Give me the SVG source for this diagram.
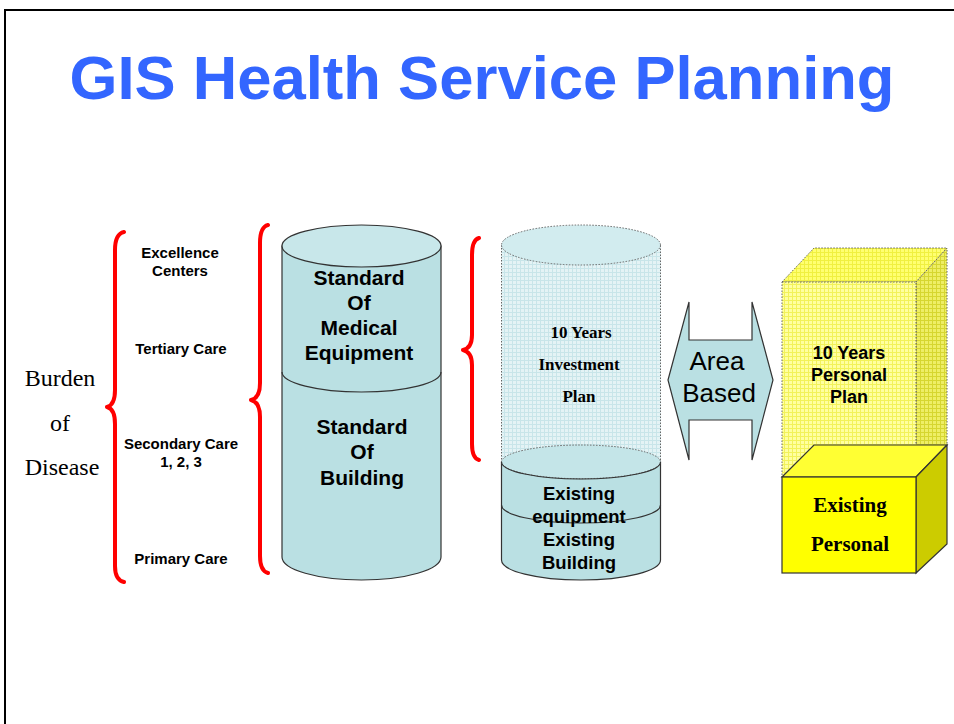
<svg xmlns="http://www.w3.org/2000/svg" width="954" height="724" viewBox="0 0 954 724">
<defs>
<pattern id="gridBlue" width="4" height="4" patternUnits="userSpaceOnUse">
<rect width="4" height="4" fill="#E4F3F5"/>
<path d="M0,0.5 H4 M0.5,0 V4" stroke="#C8E5E9" stroke-width="1"/>
</pattern>
<pattern id="gridYellow" width="4" height="4" patternUnits="userSpaceOnUse">
<rect width="4" height="4" fill="#FFFFA0"/>
<path d="M0,0.5 H4 M0.5,0 V4" stroke="#F2F25A" stroke-width="1"/>
</pattern>
<pattern id="gridYellowTop" width="4" height="4" patternUnits="userSpaceOnUse">
<rect width="4" height="4" fill="#FFFF70"/>
<path d="M0,0.5 H4 M0.5,0 V4" stroke="#F0F040" stroke-width="1"/>
</pattern>
<pattern id="gridYellowSide" width="4" height="4" patternUnits="userSpaceOnUse">
<rect width="4" height="4" fill="#EEEE66"/>
<path d="M0,0.5 H4 M0.5,0 V4" stroke="#D6D630" stroke-width="1"/>
</pattern>
</defs>
<style>
.brace{fill:none;stroke:#FF0000;stroke-width:4;stroke-linecap:round;stroke-linejoin:round}
.solid{stroke:#333333;stroke-width:1.2}
.dot{stroke:#666666;stroke-width:1;stroke-dasharray:1.5 1.5}
.lbl{font-family:"Liberation Sans",Arial,sans-serif;font-weight:bold;font-size:15px;fill:#000;text-anchor:middle}
.cyl{font-family:"Liberation Sans",Arial,sans-serif;font-weight:bold;font-size:21px;fill:#000;text-anchor:middle}
.ser{font-family:"Liberation Serif","Times New Roman",serif;fill:#000;text-anchor:middle}
</style>
<rect width="954" height="724" fill="#FFFFFF"/>
<path d="M5,730 L5,10 L960,10" fill="none" stroke="#000" stroke-width="2"/>
<text x="482" y="99" font-family="Liberation Sans,Arial,sans-serif" font-weight="bold" font-size="61" fill="#3366FF" textLength="825" lengthAdjust="spacingAndGlyphs" text-anchor="middle">GIS Health Service Planning</text>

<g id="burden">
<text class="ser" x="60" y="386" font-size="24">Burden</text>
<text class="ser" x="60" y="431" font-size="24">of</text>
<text class="ser" x="62" y="475" font-size="24">Disease</text>
</g>

<g id="connectors">
<path class="brace" d="M124,232 Q115,234 115,250 L115,390 Q115,405 107,407 Q115,409 115,424 L115,566 Q115,580 124,582"/>
<path class="brace" d="M268,225 Q260,227 260,243 L260,383 Q260,398 251,400 Q260,402 260,417 L260,556 Q260,571 268,573"/>
<path class="brace" d="M479,238 Q472,240 472,255 L472,335 Q472,348 463,350 Q472,352 472,365 L472,444 Q472,458 479,460"/>
</g>

<g id="care-levels">
<text class="lbl" x="180" y="258">Excellence</text>
<text class="lbl" x="180" y="276">Centers</text>
<text class="lbl" x="181" y="354">Tertiary Care</text>
<text class="lbl" x="181" y="449">Secondary Care</text>
<text class="lbl" x="181" y="467">1, 2, 3</text>
<text class="lbl" x="181" y="564">Primary Care</text>
</g>

<g id="standards-cylinder">
<path class="solid" d="M282,246 L282,557 A79.5,23 0 0 0 441,557 L441,246 Z" fill="#BAE0E3"/>
<ellipse class="solid" cx="361.5" cy="246" rx="79.5" ry="21" fill="#C8E7EA"/>
<path class="solid" d="M282,372 A79.5,20 0 0 0 441,372" fill="none"/>
<text class="cyl" x="359" y="285">Standard</text>
<text class="cyl" x="359" y="310">Of</text>
<text class="cyl" x="359" y="335">Medical</text>
<text class="cyl" x="359" y="360">Equipment</text>
<text class="cyl" x="362" y="434">Standard</text>
<text class="cyl" x="362" y="459">Of</text>
<text class="cyl" x="362" y="485">Building</text>
</g>

<g id="investment-cylinder">
<path class="dot" d="M501.5,245 L501.5,462 L660.5,462 L660.5,245 Z" fill="url(#gridBlue)"/>
<ellipse class="dot" cx="581" cy="245" rx="79.5" ry="20" fill="#D2ECEF"/>
<path class="solid" d="M501.5,462 L501.5,560 A79.5,20 0 0 0 660.5,560 L660.5,462 Z" fill="#BAE0E3"/>
<ellipse cx="581" cy="462" rx="79.5" ry="17" fill="#C4E5E8" stroke="none"/>
<path class="dot" d="M501.5,462 A79.5,17 0 0 1 660.5,462" fill="none"/>
<path class="dot" d="M503,465 A79.5,17 0 0 0 659,465" fill="none"/>
<path class="solid" d="M501.5,462 A79.5,17 0 0 0 660.5,462" fill="none"/>
<path class="solid" d="M501.5,505 A79.5,18 0 0 0 660.5,505" fill="none"/>
<text class="ser" x="581" y="338" font-size="17" font-weight="bold">10 Years</text>
<text class="ser" x="579" y="370" font-size="17" font-weight="bold">Investment</text>
<text class="ser" x="579" y="402" font-size="17" font-weight="bold">Plan</text>
<text class="cyl" x="579" y="500" style="font-size:18.5px">Existing</text>
<text class="cyl" x="579" y="523" style="font-size:18.5px">equipment</text>
<text class="cyl" x="579" y="546" style="font-size:18.5px">Existing</text>
<text class="cyl" x="579" y="569" style="font-size:18.5px">Building</text>
</g>

<g id="area-based">
<polygon class="solid" points="668,380 689,302 689,340 752,340 752,302 773,380 752,460 752,420 689,420 689,460" fill="#BAE0E3"/>
<text x="717" y="370" font-family="Liberation Sans,Arial,sans-serif" font-size="26" text-anchor="middle">Area</text>
<text x="719" y="402" font-family="Liberation Sans,Arial,sans-serif" font-size="26" text-anchor="middle">Based</text>
</g>

<g id="personal-box">
<polygon class="dot" points="782,282 814,248 947,248 916,282" fill="url(#gridYellowTop)"/>
<polygon class="dot" points="916,282 947,248 947,445 916,477" fill="url(#gridYellowSide)"/>
<rect class="dot" x="782" y="282" width="134" height="195" fill="url(#gridYellow)"/>
<polygon class="solid" points="782,477 814,445 947,445 916,477" fill="#FFFF33"/>
<polygon class="solid" points="916,477 947,445 947,544 916,573" fill="#CCCC00"/>
<rect class="solid" x="782" y="477" width="134" height="96" fill="#FFFF00"/>
<text class="cyl" x="849" y="359" style="font-size:18px">10 Years</text>
<text class="cyl" x="849" y="381" style="font-size:18px">Personal</text>
<text class="cyl" x="849" y="403" style="font-size:18px">Plan</text>
<text class="ser" x="850" y="512" font-size="21" font-weight="bold">Existing</text>
<text class="ser" x="850" y="551" font-size="21" font-weight="bold">Personal</text>
</g>
</svg>
